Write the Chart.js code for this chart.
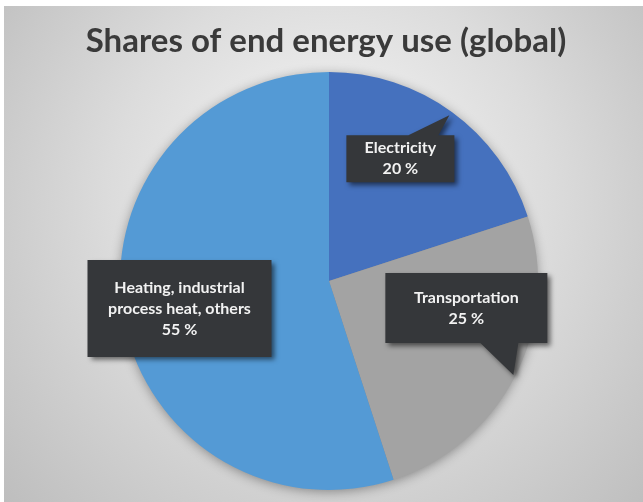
<!DOCTYPE html>
<html>
<head>
<meta charset="utf-8">
<script src="https://cdn.jsdelivr.net/npm/chart.js@4/dist/chart.umd.min.js"></script>
<style>
  html, body { margin: 0; padding: 0; background: #fff; }
  #wrap { position: absolute; left: 0; top: 0; width: 643px; height: 502px; }
</style>
</head>
<body>
<div id="wrap"><canvas id="energyChart" width="643" height="502"></canvas></div>
<script>
// Shares of end energy use
const categories = ['Electricity', 'Transportation', 'Heating, industrial process heat, others'];
const shares = [20, 25, 55];
const labelNames = [['Electricity'], ['Transportation'], ['Heating, industrial', 'process heat, others']];
const sliceColors = ['#4571be', '#a3a3a3', '#549ad5'];

// callout boxes: anchor on the slice (mid angle, fraction of radius), box offset from anchor
const callouts = [
  { r: 0.98, dx: -103, dy: 20, w: 108, h: 47, tail: { side: 'top', from: 62, to: 92 } },
  { r: 0.99, dx: -128, dy: -102, w: 162, h: 70, tail: { side: 'bottom', from: 95, to: 133 } },
  { r: 0.70, dx: -97, dy: -44, w: 184, h: 97, tail: null }
];

const backdrop = {
  id: 'backdrop',
  beforeDraw(chart) {
    const ctx = chart.ctx;
    ctx.save();
    ctx.fillStyle = '#fff';
    ctx.fillRect(0, 0, chart.width, chart.height);
    const g = ctx.createRadialGradient(330, 170, 20, 330, 230, 460);
    g.addColorStop(0, '#f3f3f3');
    g.addColorStop(0.45, '#dcdcdc');
    g.addColorStop(1, '#b9b9b9');
    ctx.fillStyle = g;
    ctx.fillRect(4, 6, chart.width - 4, chart.height - 6);

    // title
    ctx.fillStyle = '#3a3a3a';
    ctx.font = 'bold 33px Lato, sans-serif';
    ctx.textAlign = 'center';
    ctx.textBaseline = 'middle';
    ctx.fillText('Shares of end energy use (global)', 326, 41);
    ctx.restore();
  },
  beforeDatasetsDraw(chart) {
    // soft shadow under the pie
    const arc = chart.getDatasetMeta(0).data[0];
    const ctx = chart.ctx;
    ctx.save();
    ctx.shadowColor = 'rgba(0,0,0,0.4)';
    ctx.shadowBlur = 12;
    ctx.shadowOffsetY = 2;
    ctx.fillStyle = '#8a8a8a';
    ctx.beginPath();
    ctx.arc(arc.x, arc.y, arc.outerRadius - 1, 0, Math.PI * 2);
    ctx.fill();
    ctx.restore();
  }
};

const calloutPlugin = {
  id: 'callouts',
  afterDatasetsDraw(chart) {
    const ctx = chart.ctx;
    const meta = chart.getDatasetMeta(0);
    meta.data.forEach((arc, i) => {
      const c = callouts[i];
      const mid = (arc.startAngle + arc.endAngle) / 2;
      const ax = arc.x + Math.cos(mid) * arc.outerRadius * c.r;
      const ay = arc.y + Math.sin(mid) * arc.outerRadius * c.r;
      const bx = ax + c.dx, by = ay + c.dy;

      ctx.save();
      ctx.beginPath();
      ctx.moveTo(bx, by);
      if (c.tail && c.tail.side === 'top') {
        ctx.lineTo(bx + c.tail.from, by);
        ctx.lineTo(ax, ay);
        ctx.lineTo(bx + c.tail.to, by);
      }
      ctx.lineTo(bx + c.w, by);
      ctx.lineTo(bx + c.w, by + c.h);
      if (c.tail && c.tail.side === 'bottom') {
        ctx.lineTo(bx + c.tail.to, by + c.h);
        ctx.lineTo(ax, ay);
        ctx.lineTo(bx + c.tail.from, by + c.h);
      }
      ctx.lineTo(bx, by + c.h);
      ctx.closePath();
      ctx.shadowColor = 'rgba(0,0,0,0.55)';
      ctx.shadowBlur = 5;
      ctx.shadowOffsetX = 3;
      ctx.shadowOffsetY = 3;
      ctx.fillStyle = '#35373a';
      ctx.fill();
      ctx.restore();

      const lines = labelNames[i].concat([shares[i] + ' %']);
      const lh = 21;
      ctx.save();
      ctx.fillStyle = '#f2f2f2';
      ctx.font = 'bold 16px Lato, sans-serif';
      ctx.textAlign = 'center';
      ctx.textBaseline = 'middle';
      const cx = bx + c.w / 2;
      const top = by + c.h / 2 - (lines.length - 1) * lh / 2;
      lines.forEach((t, k) => ctx.fillText(t, cx, top + k * lh));
      ctx.restore();
    });
  }
};

new Chart(document.getElementById('energyChart'), {
  type: 'pie',
  data: {
    labels: categories,
    datasets: [{
      data: shares,
      backgroundColor: sliceColors,
      borderWidth: 0
    }]
  },
  options: {
    responsive: false,
    animation: false,
    layout: { padding: { top: 72, bottom: 12, left: 15, right: 0 } },
    plugins: {
      legend: { display: false },
      tooltip: { enabled: false },
      title: { display: false }
    }
  },
  plugins: [backdrop, calloutPlugin]
});
</script>
</body>
</html>
